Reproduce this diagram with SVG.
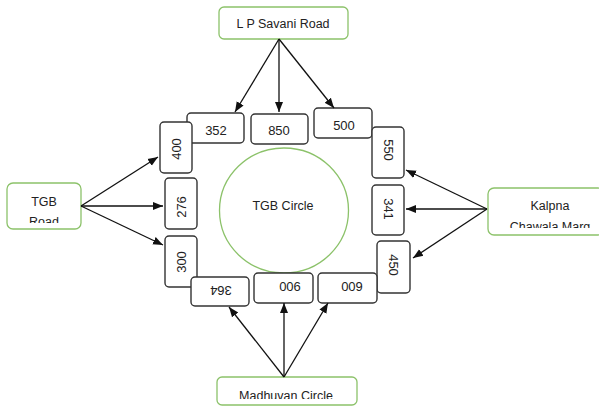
<svg xmlns="http://www.w3.org/2000/svg" width="599" height="407" viewBox="0 0 599 407">
<style>
.node{fill:#fff;stroke:#8cc26a;stroke-width:1.3}
.num{fill:#fff;stroke:#333;stroke-width:1.4}
.t{font-family:"Liberation Sans",Arial,sans-serif;font-size:12.5px;fill:#222;text-anchor:middle}
.n{font-family:"Liberation Sans",Arial,sans-serif;font-size:13px;fill:#222;text-anchor:middle}
.c{stroke:#111;stroke-width:1.3;fill:none;marker-end:url(#ah)}
</style>
<defs>
<marker id="ah" markerUnits="userSpaceOnUse" markerWidth="10" markerHeight="10" viewBox="0 0 10 10" refX="10" refY="5" orient="auto">
<path d="M0,1 L10,5 L0,9 Z" fill="#111"/>
</marker>
<clipPath id="cTGB"><rect x="7" y="183" width="74" height="40"/></clipPath>
<clipPath id="cKal"><rect x="488" y="188" width="111" height="40"/></clipPath>
<clipPath id="cMad"><rect x="217" y="377" width="140" height="22"/></clipPath>
</defs>
<rect width="599" height="407" fill="#fff"/>

<g id="tgb-circle">
<ellipse cx="284" cy="210.5" rx="64.5" ry="62.5" fill="none" stroke="#8cc26a" stroke-width="1.3"/>
<text class="t" x="283" y="210">TGB Circle</text>
</g>

<g id="lp-savani-road">
<rect class="node" x="219" y="7" width="129" height="32" rx="5"/>
<text class="t" x="283" y="28">L P Savani Road</text>
</g>

<g id="tgb-road">
<rect class="node" x="7" y="183" width="74" height="46" rx="6"/>
<g clip-path="url(#cTGB)">
<text class="t" x="44" y="206">TGB</text>
<text class="t" x="44" y="225.5">Road</text>
</g>
</g>

<g id="kalpna-chawala-marg">
<rect class="node" x="488" y="188" width="116" height="47" rx="6"/>
<g clip-path="url(#cKal)">
<text class="t" x="550" y="210">Kalpna</text>
<text class="t" x="550" y="231">Chawala Marg</text>
</g>
</g>

<g id="madhuvan-circle">
<rect class="node" x="217" y="377" width="140" height="28" rx="5"/>
<g clip-path="url(#cMad)">
<text class="t" x="286" y="400">Madhuvan Circle</text>
</g>
</g>

<g id="n352"><rect class="num" x="187" y="113" width="57" height="30" rx="4"/><text class="n" x="216" y="135">352</text></g>
<g id="n850"><rect class="num" x="251" y="114" width="57" height="30" rx="4"/><text class="n" x="279" y="135">850</text></g>
<g id="n500"><rect class="num" x="314" y="108" width="58" height="30" rx="4"/><text class="n" x="344" y="130">500</text></g>

<g id="n400"><rect class="num" x="160" y="122" width="32" height="51" rx="4"/><text class="n" transform="translate(176,149) rotate(-90)" x="0" y="4.5">400</text></g>
<g id="n276"><rect class="num" x="165" y="178" width="32" height="51" rx="4"/><text class="n" transform="translate(181,207) rotate(-90)" x="0" y="4.5">276</text></g>
<g id="n300"><rect class="num" x="165" y="236" width="32" height="51" rx="4"/><text class="n" transform="translate(181,262) rotate(-90)" x="0" y="4.5">300</text></g>

<g id="n550"><rect class="num" x="372" y="127" width="32" height="51" rx="4"/><text class="n" transform="translate(388,150) rotate(90)" x="0" y="4.5">550</text></g>
<g id="n341"><rect class="num" x="372" y="185" width="32" height="50" rx="4"/><text class="n" transform="translate(388,209) rotate(90)" x="0" y="4.5">341</text></g>
<g id="n450"><rect class="num" x="377" y="241" width="33" height="52" rx="4"/><text class="n" transform="translate(393,265) rotate(90)" x="0" y="4.5">450</text></g>

<g id="n364"><rect class="num" x="191" y="277" width="58" height="29" rx="4"/><text class="n" transform="translate(221,290) rotate(180)" x="0" y="4.5">364</text></g>
<g id="n900"><rect class="num" x="254" y="273" width="59" height="30" rx="4"/><text class="n" transform="translate(290,286) rotate(180)" x="0" y="4.5">900</text></g>
<g id="n600"><rect class="num" x="318" y="273" width="59" height="30" rx="4"/><text class="n" transform="translate(352,286) rotate(180)" x="0" y="4.5">600</text></g>

<g id="connectors">
<line class="c" x1="279" y1="39" x2="235" y2="112"/>
<line class="c" x1="279" y1="39" x2="279" y2="112"/>
<line class="c" x1="279" y1="39" x2="334" y2="108"/>
<line class="c" x1="81" y1="206" x2="158" y2="157"/>
<line class="c" x1="81" y1="206" x2="163" y2="206"/>
<line class="c" x1="81" y1="206" x2="163" y2="245"/>
<line class="c" x1="487" y1="209" x2="406" y2="170"/>
<line class="c" x1="487" y1="209" x2="406" y2="209"/>
<line class="c" x1="487" y1="209" x2="413" y2="258"/>
<line class="c" x1="284" y1="377" x2="229" y2="307"/>
<line class="c" x1="284" y1="377" x2="284" y2="303"/>
<line class="c" x1="284" y1="377" x2="328" y2="303"/>
</g>
</svg>
